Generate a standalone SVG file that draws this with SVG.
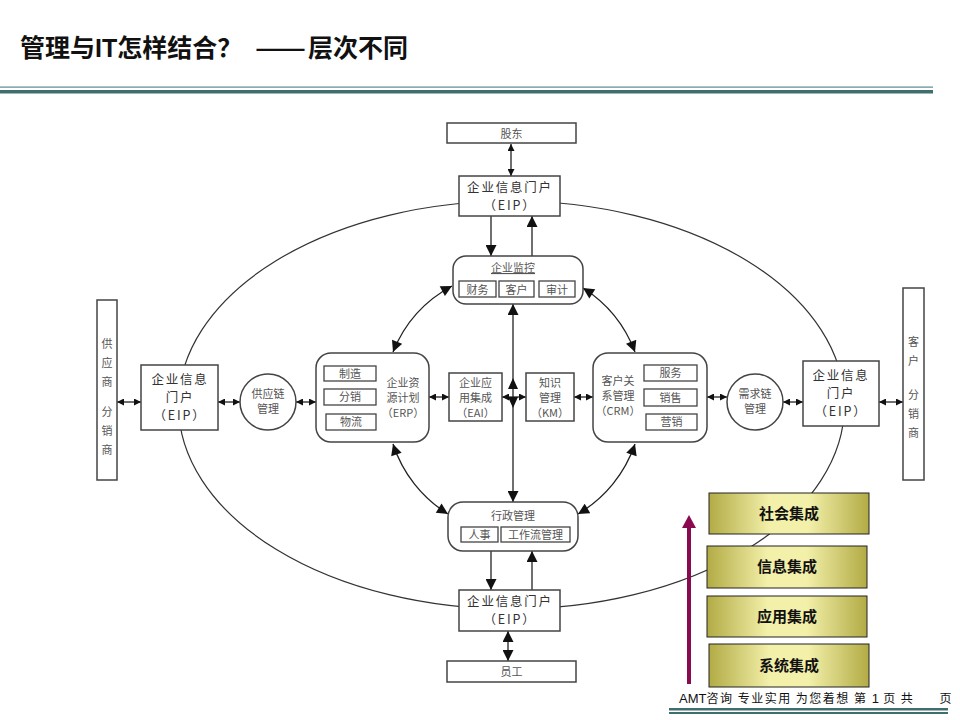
<svg xmlns="http://www.w3.org/2000/svg" width="960" height="720" viewBox="0 0 960 720">
<style>
.bx{fill:#fff;stroke:#444;stroke-width:1.5}
.sb{fill:#fff;stroke:#444;stroke-width:1.3}
.t{font-family:"Noto Sans CJK SC","Liberation Serif",serif;font-size:11px;fill:#555;text-anchor:middle}
.te{font-family:"Noto Sans CJK SC","Liberation Sans",sans-serif;font-size:12.5px;fill:#333;text-anchor:middle;letter-spacing:1.8px}
.c{fill:none;stroke:#222;stroke-width:1.3}
.st{stroke:#222;stroke-width:1;fill:url(#g)}
.sl{font-family:"Noto Sans CJK SC","Liberation Sans",sans-serif;font-size:15px;font-weight:bold;fill:#111;text-anchor:middle}
</style>
<defs>
<marker id="ah" viewBox="0 0 10 10" refX="10" refY="5" markerWidth="8" markerHeight="7" markerUnits="userSpaceOnUse" orient="auto-start-reverse"><path d="M0,0 L10,5 L0,10 z" fill="#111"/></marker>
<marker id="ab" viewBox="0 0 10 10" refX="10" refY="5" markerWidth="12" markerHeight="11" markerUnits="userSpaceOnUse" orient="auto-start-reverse"><path d="M0,0 L10,5 L0,10 z" fill="#111"/></marker>
<linearGradient id="g" x1="0" y1="0" x2="1" y2="0">
<stop offset="0" stop-color="#b2ab45"/><stop offset="0.38" stop-color="#f3f0aa"/><stop offset="0.62" stop-color="#f3f0aa"/><stop offset="1" stop-color="#b2ab45"/>
</linearGradient>
</defs>
<rect width="960" height="720" fill="#fff"/>

<!-- title -->
<g font-family="'Noto Sans CJK SC',sans-serif" font-size="25" font-weight="bold" fill="#111">
<text x="20" y="57">管理与<tspan font-family="'Liberation Sans',sans-serif">IT</tspan>怎样结合？</text>
<text x="255" y="57" textLength="51" lengthAdjust="spacingAndGlyphs">——</text>
<text x="308" y="57">层次不同</text>
</g>
<rect x="0" y="86.5" width="933" height="1.2" fill="#5a8a8a"/>
<rect x="0" y="90" width="933" height="3.5" fill="#3f6e6e"/>

<!-- big ellipse -->
<ellipse cx="511.5" cy="405" rx="333" ry="204" fill="none" stroke="#333" stroke-width="1.2"/>

<g id="connectors">
<line class="c" x1="511" y1="144" x2="511" y2="176" marker-start="url(#ah)" marker-end="url(#ah)"/>
<line class="c" x1="491" y1="216" x2="491" y2="256" marker-end="url(#ab)"/>
<line class="c" x1="532" y1="256" x2="532" y2="216" marker-end="url(#ab)"/>
<line class="c" x1="491" y1="551" x2="491" y2="590" marker-end="url(#ab)"/>
<line class="c" x1="532" y1="590" x2="532" y2="551" marker-end="url(#ab)"/>
<line class="c" x1="508" y1="631" x2="508" y2="661" marker-start="url(#ab)" marker-end="url(#ab)"/>
<line class="c" x1="117" y1="402" x2="141" y2="402" marker-start="url(#ah)" marker-end="url(#ah)"/>
<line class="c" x1="218" y1="402" x2="240" y2="402" marker-start="url(#ah)" marker-end="url(#ah)"/>
<line class="c" x1="296" y1="402" x2="316" y2="402" marker-start="url(#ah)" marker-end="url(#ah)"/>
<line class="c" x1="429" y1="397" x2="449" y2="397" marker-start="url(#ah)" marker-end="url(#ah)"/>
<line class="c" x1="502" y1="397" x2="526" y2="397" marker-start="url(#ah)" marker-end="url(#ah)"/>
<line class="c" x1="574" y1="397" x2="593" y2="397" marker-start="url(#ah)" marker-end="url(#ah)"/>
<line class="c" x1="707" y1="397" x2="727" y2="397" marker-start="url(#ah)" marker-end="url(#ah)"/>
<line class="c" x1="783" y1="402" x2="803" y2="402" marker-start="url(#ah)" marker-end="url(#ah)"/>
<line class="c" x1="879" y1="402" x2="903" y2="402" marker-start="url(#ah)" marker-end="url(#ah)"/>
<line class="c" x1="513" y1="304" x2="513" y2="502" marker-start="url(#ab)" marker-end="url(#ab)"/>
<path d="M513,378 L518,389 L508,389 z M513,408 L518,397 L508,397 z" fill="#111"/>
<path class="c" d="M393,352 A130,130 0 0 1 452,286" marker-start="url(#ab)" marker-end="url(#ab)"/>
<path class="c" d="M583,288 A130,130 0 0 1 635,352" marker-start="url(#ab)" marker-end="url(#ab)"/>
<path class="c" d="M635,444 A130,130 0 0 1 578,514" marker-start="url(#ab)" marker-end="url(#ab)"/>
<path class="c" d="M448,514 A130,130 0 0 1 393,444" marker-start="url(#ab)" marker-end="url(#ab)"/>
</g>

<g id="gudong">
<rect class="bx" x="447" y="123" width="129" height="20"/>
<text class="t" x="511.5" y="138" font-size="13">股东</text>
</g>
<g id="eip-top">
<rect class="bx" x="459" y="176" width="101" height="40"/>
<text class="te" x="510" y="192">企业信息门户</text>
<text class="te" x="510" y="210">（EIP）</text>
</g>
<g id="jiankong">
<rect class="bx" x="453" y="256" width="130" height="48" rx="13"/>
<text class="t" x="513" y="272" text-decoration="underline">企业监控</text>
<rect class="sb" x="459" y="281" width="37" height="16"/><text class="t" x="477.5" y="293.5">财务</text>
<rect class="sb" x="499" y="281" width="35" height="16"/><text class="t" x="516.5" y="293.5">客户</text>
<rect class="sb" x="539" y="281" width="36" height="16"/><text class="t" x="557" y="293.5">审计</text>
</g>

<g id="supplier">
<rect class="bx" x="97" y="300" width="20" height="180"/>
<text class="t" x="107" y="348" font-size="13">供</text>
<text class="t" x="107" y="367" font-size="13">应</text>
<text class="t" x="107" y="386" font-size="13">商</text>
<text class="t" x="107" y="416" font-size="13">分</text>
<text class="t" x="107" y="435" font-size="13">销</text>
<text class="t" x="107" y="454" font-size="13">商</text>
</g>
<g id="eip-left">
<rect class="bx" x="141" y="365" width="77" height="65"/>
<text class="te" x="180" y="384" font-size="12">企业信息</text>
<text class="te" x="180" y="402" font-size="12">门户</text>
<text class="te" x="180" y="420" font-size="12">（EIP）</text>
</g>
<g id="scm">
<circle class="bx" cx="268" cy="402" r="28"/>
<text class="t" x="268" y="398">供应链</text>
<text class="t" x="268" y="413">管理</text>
</g>
<g id="erp">
<rect class="bx" x="316" y="353" width="113" height="89" rx="15"/>
<rect class="sb" x="324" y="366" width="52" height="15"/><text class="t" x="350" y="377.5">制造</text>
<rect class="sb" x="324" y="389" width="52" height="16"/><text class="t" x="350" y="401">分销</text>
<rect class="sb" x="326" y="414" width="50" height="16"/><text class="t" x="351" y="426">物流</text>
<text class="t" x="403" y="387">企业资</text>
<text class="t" x="403" y="402">源计划</text>
<text class="t" x="403" y="417" font-size="10">（ERP）</text>
</g>
<g id="eai">
<rect class="bx" x="449" y="373" width="53" height="48"/>
<text class="t" x="475.5" y="387">企业应</text>
<text class="t" x="475.5" y="402">用集成</text>
<text class="t" x="475.5" y="417" font-size="10">（EAI）</text>
</g>
<g id="km">
<rect class="bx" x="526" y="373" width="48" height="48"/>
<text class="t" x="550" y="387">知识</text>
<text class="t" x="550" y="402">管理</text>
<text class="t" x="550" y="417" font-size="10">（KM）</text>
</g>
<g id="crm">
<rect class="bx" x="593" y="353" width="114" height="89" rx="15"/>
<text class="t" x="618" y="385">客户关</text>
<text class="t" x="618" y="400">系管理</text>
<text class="t" x="618" y="415" font-size="10">（CRM）</text>
<rect class="sb" x="644" y="365" width="53" height="16"/><text class="t" x="670.5" y="377">服务</text>
<rect class="sb" x="644" y="389" width="53" height="17"/><text class="t" x="670.5" y="401.5">销售</text>
<rect class="sb" x="646" y="414" width="51" height="16"/><text class="t" x="671.5" y="426">营销</text>
</g>
<g id="dcm">
<circle class="bx" cx="755" cy="402" r="28"/>
<text class="t" x="755" y="398">需求链</text>
<text class="t" x="755" y="413">管理</text>
</g>
<g id="eip-right">
<rect class="bx" x="803" y="361" width="76" height="65"/>
<text class="te" x="841" y="380" font-size="12">企业信息</text>
<text class="te" x="841" y="398" font-size="12">门户</text>
<text class="te" x="841" y="416" font-size="12">（EIP）</text>
</g>
<g id="customer">
<rect class="bx" x="903" y="288" width="21" height="192"/>
<text class="t" x="913.5" y="346" font-size="13">客</text>
<text class="t" x="913.5" y="365" font-size="13">户</text>
<text class="t" x="913.5" y="399" font-size="13">分</text>
<text class="t" x="913.5" y="418" font-size="13">销</text>
<text class="t" x="913.5" y="437" font-size="13">商</text>
</g>

<g id="xingzheng">
<rect class="bx" x="448" y="502" width="130" height="49" rx="15"/>
<text class="t" x="513" y="520">行政管理</text>
<rect class="sb" x="461" y="527" width="37" height="15"/><text class="t" x="479.5" y="538.5">人事</text>
<rect class="sb" x="501" y="527" width="69" height="15"/><text class="t" x="535.5" y="538.5">工作流管理</text>
</g>
<g id="eip-bottom">
<rect class="bx" x="459" y="590" width="101" height="41"/>
<text class="te" x="510" y="606">企业信息门户</text>
<text class="te" x="510" y="624">（EIP）</text>
</g>
<g id="yuangong">
<rect class="bx" x="447" y="661" width="129" height="21"/>
<text class="t" x="511.5" y="676" font-size="13">员工</text>
</g>

<!-- integration stack -->
<g id="shehui"><rect class="st" x="709" y="493" width="160" height="41"/><text class="sl" x="789" y="519">社会集成</text></g>
<g id="xinxi"><rect class="st" x="707" y="546" width="160" height="42"/><text class="sl" x="787" y="572">信息集成</text></g>
<g id="yingyong"><rect class="st" x="707" y="596" width="160" height="41"/><text class="sl" x="787" y="622">应用集成</text></g>
<g id="xitong"><rect class="st" x="709" y="644" width="160" height="43"/><text class="sl" x="789" y="671">系统集成</text></g>
<g id="level-arrow">
<line x1="689" y1="684" x2="689" y2="526" stroke="#8a0a52" stroke-width="4"/>
<path d="M689,515 L696,528 L682,528 z" fill="#8a0a52"/>
</g>

<!-- footer -->
<text x="679" y="703" font-family="'Liberation Sans','Noto Sans CJK SC',sans-serif" font-size="13" fill="#111" xml:space="preserve">AMT<tspan font-family="'Noto Sans CJK SC',sans-serif" font-size="12" letter-spacing="1.5">咨询 专业实用 为您着想 第 </tspan>1<tspan font-family="'Noto Sans CJK SC',sans-serif" font-size="12" letter-spacing="1.5"> 页 共      页</tspan></text>
<rect x="669" y="708" width="279" height="2.5" fill="#3f6e6e"/>
<rect x="669" y="712" width="279" height="2" fill="#3f6e6e"/>
</svg>
